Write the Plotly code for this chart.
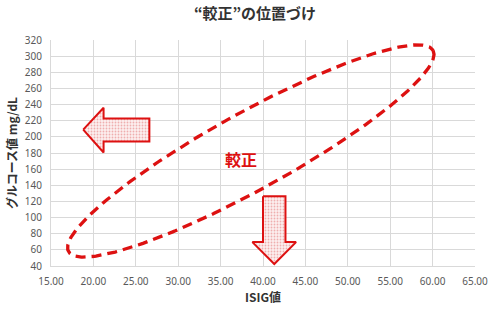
import numpy as np
import plotly.graph_objects as go

# ---- data ----
x_ticks = [15, 20, 25, 30, 35, 40, 45, 50, 55, 60, 65]
y_ticks = list(range(40, 321, 20))
title_text = "“較正”の位置づけ"
x_title = "ISIG値"
y_title = "グルコース値 mg/dL"
label_text = "較正"

# ellipse (data units): centre and two conjugate half-diameters
ell_center = (38.56, 182.5)
ell_major = (21.5, 124.5)
ell_minor = (2.14, -42.3)

# left arrow outline (ISIG, glucose)
left_arrow_x = [18.8, 21.2, 21.2, 26.6, 26.6, 21.2, 21.2, 18.8]
left_arrow_y = [209.0, 236.1, 222.6, 222.6, 194.2, 194.2, 180.6, 209.0]
# down arrow outline
down_arrow_x = [40.0, 42.65, 42.65, 43.9, 41.33, 38.75, 40.0, 40.0]
down_arrow_y = [126.3, 126.3, 69.6, 69.6, 42.5, 69.6, 69.6, 126.3]

label_pos = (37.35, 172.6)

RED = "#DD1111"
GRID = "#D9D9D9"
TICK = "#595959"

t = np.linspace(0, 2 * np.pi, 400)
ex = ell_center[0] + ell_major[0] * np.cos(t) + ell_minor[0] * np.sin(t)
ey = ell_center[1] + ell_major[1] * np.cos(t) + ell_minor[1] * np.sin(t)

fig = go.Figure()
for ax, ay in [(left_arrow_x, left_arrow_y), (down_arrow_x, down_arrow_y)]:
    fig.add_trace(go.Scatter(
        x=ax, y=ay, mode="lines", fill="toself",
        line=dict(color=RED, width=2),
        fillcolor="rgba(0,0,0,0)",
        fillpattern=dict(shape=".", fgcolor="#E07070", bgcolor="#FCEFEF",
                         size=3, solidity=0.3),
        hoverinfo="skip", showlegend=False))

fig.add_trace(go.Scatter(
    x=ex, y=ey, mode="lines",
    line=dict(color=RED, width=3.3, dash="10px,6px"),
    hoverinfo="skip", showlegend=False))

fig.add_annotation(x=label_pos[0], y=label_pos[1], text="<b>" + label_text + "</b>",
                   showarrow=False,
                   font=dict(family="Noto Sans CJK JP", size=16, color=RED))

fig.update_layout(
    width=500, height=310,
    margin=dict(l=50, r=16, t=40, b=43),
    paper_bgcolor="white", plot_bgcolor="white",
    title=dict(text="<b>" + title_text + "</b>", x=0.51, xanchor="center",
               y=0.955, yanchor="middle",
               font=dict(family="Noto Sans CJK JP", size=15, color="#333333")),
    font=dict(family="Noto Sans, Liberation Sans", size=10, color=TICK),
    xaxis=dict(range=[15, 65], tickvals=x_ticks, tickformat=".2f",
               showgrid=True, gridcolor=GRID, gridwidth=1,
               showline=True, linecolor=GRID, zeroline=False,
               ticks="outside", ticklen=6, tickcolor="rgba(0,0,0,0)",
               tickfont=dict(size=10, color=TICK),
               title=dict(text="<b>" + x_title + "</b>", standoff=2,
                          font=dict(family="Noto Sans CJK JP", size=12, color="#333333"))),
    yaxis=dict(range=[40, 320], tickvals=y_ticks,
               showgrid=True, gridcolor=GRID, gridwidth=1,
               showline=True, linecolor=GRID, zeroline=False,
               ticks="outside", ticklen=6, tickcolor="rgba(0,0,0,0)",
               tickfont=dict(size=10, color=TICK),
               title=dict(text="<b>" + y_title + "</b>", standoff=4,
                          font=dict(family="Noto Sans CJK JP", size=12, color="#333333"))),
)

fig.write_html("out.html")
